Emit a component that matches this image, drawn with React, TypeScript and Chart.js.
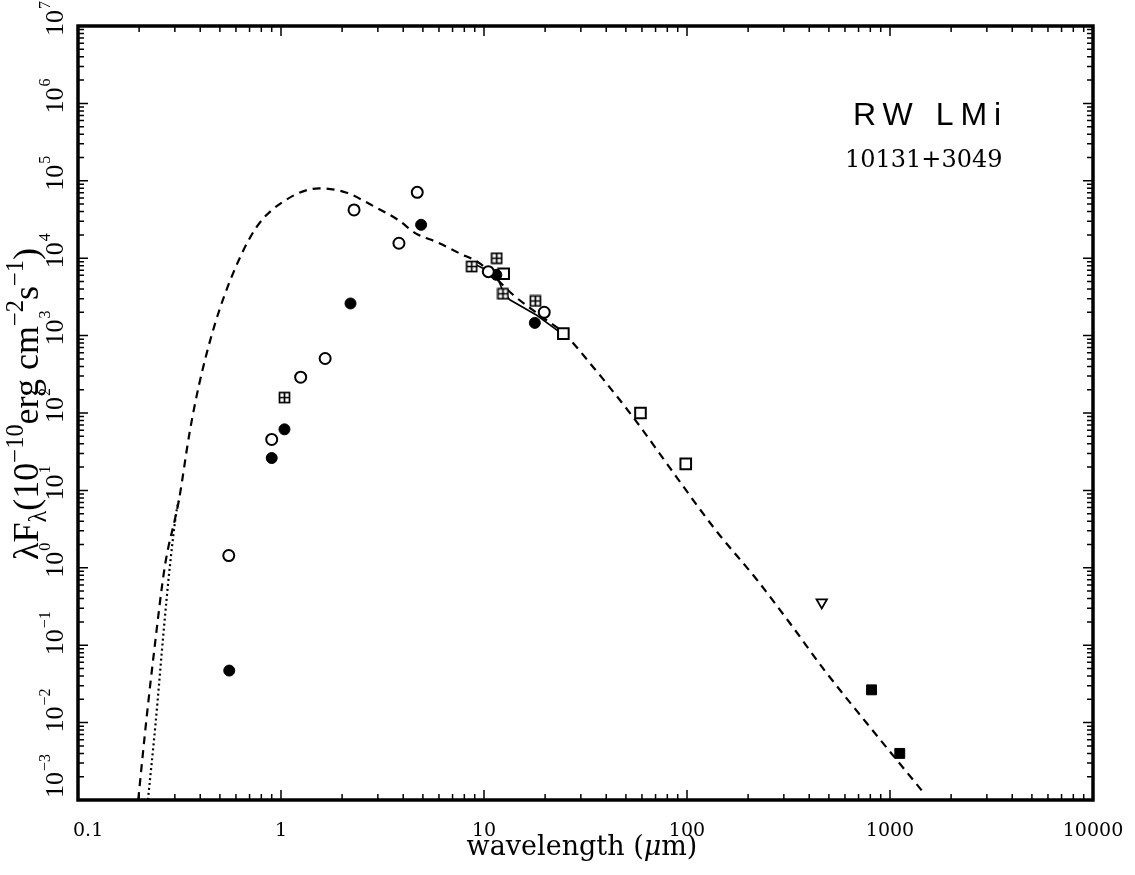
import React, { useEffect, useRef } from "react";
import { Chart, registerables } from "chart.js";

Chart.register(...registerables);

// ---------- data ----------
const xTickValues = [0.1, 1, 10, 100, 1000, 10000];
const xTickLabels = ["0.1", "1", "10", "100", "1000", "10000"];
const yTickExponents = [-3, -2, -1, 0, 1, 2, 3, 4, 5, 6, 7];

// dashed model curve
const modelWavelength = [0.198, 0.218, 0.2375, 0.268, 0.303, 0.314, 0.355, 0.395, 0.4725, 0.588, 0.759, 1.061, 1.54, 2.087, 2.825, 3.81, 4.63, 5.81, 7.57, 9.49, 13.9, 19.6, 24.6, 34.7, 38.1, 56.0, 82.4, 138, 221, 325, 477, 769, 1472];
const modelFlux = [0.001, 0.0119, 0.0863, 1.06, 4.73, 7.4, 56.9, 233, 1406, 6900, 25350, 56900, 79800, 70700, 47800, 30700, 20750, 16300, 11560, 8630, 3370, 1694, 1089, 385, 286, 79.3, 19.5, 3.1, 0.7, 0.185, 0.047, 0.0098, 0.00122];

// dotted curve (short-wavelength branch)
const dottedWavelength = [0.221, 0.241, 0.2636, 0.2835, 0.3066, 0.314];
const dottedFlux = [0.001, 0.00964, 0.1426, 1.05, 5.66, 7.4];

// solid LRS spectrum
const lrsWavelength = [8.9, 11.5, 12.4, 13.4, 18.2, 23.5];
const lrsFlux = [8500, 6110, 3720, 2900, 1833, 1120];

// observations
const openCircleWavelength = [0.553, 0.9, 1.25, 1.65, 2.29, 3.81, 4.69, 10.5, 19.8];
const openCircleFlux = [1.44, 45.5, 290, 506, 42000, 15600, 71000, 6700, 2000];

const filledCircleWavelength = [0.556, 0.9, 1.04, 2.2, 4.9, 11.5, 17.8];
const filledCircleFlux = [0.047, 26.2, 61.5, 2600, 27000, 6100, 1460];

const gridSquareWavelength = [1.04, 8.7, 11.55, 12.4, 17.9];
const gridSquareFlux = [158, 7800, 10000, 3470, 2800];

const openSquareWavelength = [12.5, 24.6, 59, 98.6];
const openSquareFlux = [6300, 1060, 100, 22];

const triangleWavelength = [461];
const triangleFlux = [0.358];

const filledSquareWavelength = [811, 1117];
const filledSquareFlux = [0.0265, 0.004];

const toXY = (xs: number[], ys: number[]) => xs.map((x, i) => ({ x, y: ys[i] }));

function makeGridSquare(): HTMLCanvasElement {
  const c = document.createElement("canvas");
  c.width = 13;
  c.height = 13;
  const g = c.getContext("2d")!;
  g.fillStyle = "#fff";
  g.fillRect(1, 1, 11, 11);
  g.strokeStyle = "#000";
  g.lineWidth = 1.7;
  g.strokeRect(1.5, 1.5, 10, 10);
  g.beginPath();
  g.moveTo(6.5, 1.5);
  g.lineTo(6.5, 11.5);
  g.moveTo(1.5, 6.5);
  g.lineTo(11.5, 6.5);
  g.stroke();
  return c;
}

const axesPlugin = {
  id: "sedAxes",
  afterDraw(chart: any) {
    const ctx: CanvasRenderingContext2D = chart.ctx;
    const { left, right, top, bottom } = chart.chartArea;
    const xs = chart.scales.x;
    const ys = chart.scales.y;
    ctx.save();
    ctx.strokeStyle = "#000";
    ctx.fillStyle = "#000";

    // ticks
    ctx.lineWidth = 1.5;
    ctx.beginPath();
    for (let d = -1; d <= 3; d++) {
      for (let m = 1; m <= 9; m++) {
        const v = m * Math.pow(10, d);
        const px = xs.getPixelForValue(v);
        const len = m === 1 ? 10 : 6;
        ctx.moveTo(px, bottom);
        ctx.lineTo(px, bottom - len);
        ctx.moveTo(px, top);
        ctx.lineTo(px, top + len);
      }
    }
    for (let d = -3; d <= 6; d++) {
      for (let m = 1; m <= 9; m++) {
        const v = m * Math.pow(10, d);
        const py = ys.getPixelForValue(v);
        const len = m === 1 ? 10 : 6;
        ctx.moveTo(left, py);
        ctx.lineTo(left + len, py);
        ctx.moveTo(right, py);
        ctx.lineTo(right - len, py);
      }
    }
    ctx.stroke();

    // frame
    ctx.lineWidth = 3.5;
    ctx.strokeRect(left, top, right - left, bottom - top);

    // x tick labels
    ctx.font = '19px "DejaVu Serif"';
    ctx.textBaseline = "alphabetic";
    xTickValues.forEach((v, i) => {
      const px = xs.getPixelForValue(v);
      if (i === 0) {
        ctx.textAlign = "left";
        ctx.fillText(xTickLabels[i], px - 5, bottom + 36);
      } else {
        ctx.textAlign = "center";
        ctx.fillText(xTickLabels[i], px, bottom + 36);
      }
    });

    // y tick labels (rotated, 10^n)
    ctx.textAlign = "left";
    yTickExponents.forEach((e) => {
      let py = ys.getPixelForValue(Math.pow(10, e));
      if (e === -3) py -= 12;
      ctx.save();
      ctx.translate(63, py);
      ctx.rotate(-Math.PI / 2);
      ctx.font = '26px "Liberation Serif"';
      const w10 = ctx.measureText("10").width;
      const x0 = -w10 / 2 + 3;
      ctx.fillText("10", x0, 0);
      ctx.font = '16px "Liberation Serif"';
      const expText = e < 0 ? "\u2212" + Math.abs(e) : String(e);
      ctx.fillText(expText, x0 + w10 + 1, -13);
      ctx.restore();
    });

    // y axis title, sized to its span in the figure
    const baseSegs = [
      { t: "\u03bbF", s: 1, dy: 0 },
      { t: "\u03bb", s: 0.68, dy: 0.22 },
      { t: "(10", s: 1, dy: 0 },
      { t: "\u221210", s: 0.68, dy: -0.42 },
      { t: "erg cm", s: 1, dy: 0 },
      { t: "\u22122", s: 0.68, dy: -0.42 },
      { t: "s", s: 1, dy: 0 },
      { t: "\u22121", s: 0.68, dy: -0.42 },
      { t: ")", s: 1, dy: 0 },
    ];
    const measure = (fs: number) => {
      let tot = 0;
      baseSegs.forEach((s) => {
        ctx.font = `${fs * s.s}px "Liberation Serif"`;
        tot += ctx.measureText(s.t).width;
      });
      return tot;
    };
    const fsz = Math.min(36, (26 * 340) / measure(26));
    const total = measure(fsz);
    ctx.save();
    ctx.translate(38, 404);
    ctx.rotate(-Math.PI / 2);
    let cx = -total / 2;
    baseSegs.forEach((s) => {
      ctx.font = `${fsz * s.s}px "Liberation Serif"`;
      ctx.fillText(s.t, cx, s.dy * fsz);
      cx += ctx.measureText(s.t).width;
    });
    ctx.restore();

    // x axis title
    const xsegs = [
      { t: "wavelength (", f: '27px "DejaVu Serif"' },
      { t: "\u03bc", f: 'italic 27px "DejaVu Serif"' },
      { t: "m)", f: '27px "DejaVu Serif"' },
    ];
    let xt = 0;
    xsegs.forEach((s) => {
      ctx.font = s.f;
      xt += ctx.measureText(s.t).width;
    });
    let tx = 582 - xt / 2;
    xsegs.forEach((s) => {
      ctx.font = s.f;
      ctx.fillText(s.t, tx, 855);
      tx += ctx.measureText(s.t).width;
    });

    // object labels
    ctx.font = '32px "Liberation Sans"';
    (ctx as any).letterSpacing = "7px";
    ctx.fillText("RW LMi", 853, 125);
    (ctx as any).letterSpacing = "0px";
    ctx.font = '24px "DejaVu Serif"';
    ctx.fillText("10131+3049", 845, 167);

    ctx.restore();
  },
};

export default function App() {
  const ref = useRef<HTMLCanvasElement | null>(null);

  useEffect(() => {
    if (!ref.current) return;
    const grid = makeGridSquare();
    const chart = new Chart(ref.current, {
      type: "scatter",
      data: {
        datasets: [
          {
            label: "open circles",
            data: toXY(openCircleWavelength, openCircleFlux),
            pointStyle: "circle",
            pointRadius: 5.5,
            borderWidth: 2,
            borderColor: "#000",
            backgroundColor: "#fff",
          },
          {
            label: "filled circles",
            data: toXY(filledCircleWavelength, filledCircleFlux),
            pointStyle: "circle",
            pointRadius: 5.5,
            borderWidth: 1,
            borderColor: "#000",
            backgroundColor: "#000",
          },
          {
            label: "grid squares",
            data: toXY(gridSquareWavelength, gridSquareFlux),
            pointStyle: grid as any,
            pointRadius: 6,
          },
          {
            label: "open squares",
            data: toXY(openSquareWavelength, openSquareFlux),
            pointStyle: "rect",
            pointRadius: 7.5,
            borderWidth: 2,
            borderColor: "#000",
            backgroundColor: "#fff",
          },
          {
            label: "upper limit",
            data: toXY(triangleWavelength, triangleFlux),
            pointStyle: "triangle",
            rotation: 180,
            pointRadius: 6,
            borderWidth: 1.8,
            borderColor: "#000",
            backgroundColor: "#fff",
          },
          {
            label: "filled squares",
            data: toXY(filledSquareWavelength, filledSquareFlux),
            pointStyle: "rect",
            pointRadius: 7,
            borderWidth: 1,
            borderColor: "#000",
            backgroundColor: "#000",
          },
          {
            label: "LRS",
            data: toXY(lrsWavelength, lrsFlux),
            showLine: true,
            pointRadius: 0,
            borderWidth: 1.6,
            borderColor: "#000",
            tension: 0,
          },
          {
            label: "dotted model",
            data: toXY(dottedWavelength, dottedFlux),
            showLine: true,
            pointRadius: 0,
            borderWidth: 2.2,
            borderColor: "#000",
            borderDash: [2, 3],
            cubicInterpolationMode: "monotone",
          },
          {
            label: "model",
            data: toXY(modelWavelength, modelFlux),
            showLine: true,
            pointRadius: 0,
            borderWidth: 2.2,
            borderColor: "#000",
            borderDash: [8, 6],
            cubicInterpolationMode: "monotone",
          },
        ],
      },
      options: {
        responsive: false,
        animation: false,
        layout: { padding: { left: 78, right: 42, top: 26, bottom: 75 } },
        scales: {
          x: { type: "logarithmic", min: 0.1, max: 10000, display: false },
          y: { type: "logarithmic", min: 0.001, max: 1e7, display: false },
        },
        plugins: {
          legend: { display: false },
          tooltip: { enabled: false },
        },
      },
      plugins: [axesPlugin],
    });
    return () => chart.destroy();
  }, []);

  return (
    <div style={{ position: "absolute", left: 0, top: 0, width: 1135, height: 875, background: "#fff" }}>
      <canvas ref={ref} width={1135} height={875} />
    </div>
  );
}
